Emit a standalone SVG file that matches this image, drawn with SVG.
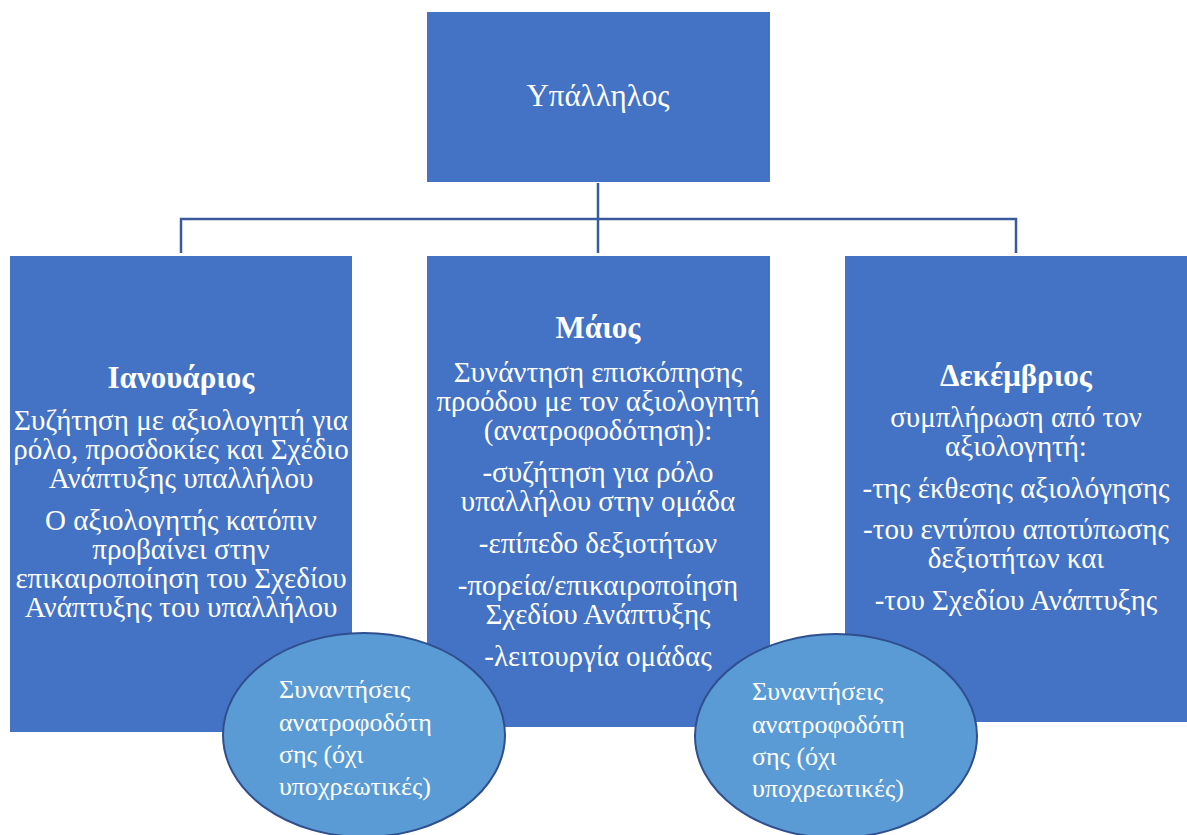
<svg xmlns="http://www.w3.org/2000/svg" width="1187" height="835" viewBox="0 0 1187 835">
<style>
.box{fill:#4472C4;}
.ell{fill:#5B9BD5;stroke:#2F4F8F;stroke-width:2;}
.t{font-family:"Liberation Serif","Times New Roman",serif;fill:#ffffff;font-size:29px;text-anchor:middle;}
.h{font-weight:bold;font-size:31px;}
.top{font-size:31px;}
.l{text-anchor:start;font-size:26px;}
.con{fill:none;stroke:#3A5A9C;stroke-width:2.5;}
</style>
<rect width="1187" height="835" fill="#ffffff"/>
<g id="connectors">
<path class="con" d="M598,183 V253 M181,253 V219 H1016 V253"/>
</g>
<g id="node-top">
<rect class="box" x="427" y="12" width="343" height="170"/>
<text class="t top" x="598" y="106">Υπάλληλος</text>
</g>
<g id="node-jan">
<rect class="box" x="10" y="256" width="342" height="476"/>
<text class="t h" x="181" y="388">Ιανουάριος</text>
<text class="t" x="181" y="430">Συζήτηση με αξιολογητή για</text>
<text class="t" x="181" y="459">ρόλο, προσδοκίες και Σχέδιο</text>
<text class="t" x="181" y="488">Ανάπτυξης υπαλλήλου</text>
<text class="t" x="181" y="530">Ο αξιολογητής κατόπιν</text>
<text class="t" x="181" y="559">προβαίνει στην</text>
<text class="t" x="181" y="588">επικαιροποίηση του Σχεδίου</text>
<text class="t" x="181" y="617">Ανάπτυξης του υπαλλήλου</text>
</g>
<g id="node-may">
<rect class="box" x="427" y="256" width="343" height="471"/>
<text class="t h" x="598" y="338">Μάιος</text>
<text class="t" x="598" y="382">Συνάντηση επισκόπησης</text>
<text class="t" x="598" y="411">προόδου με τον αξιολογητή</text>
<text class="t" x="598" y="440">(ανατροφοδότηση):</text>
<text class="t" x="598" y="482">-συζήτηση για ρόλο</text>
<text class="t" x="598" y="511">υπαλλήλου στην ομάδα</text>
<text class="t" x="598" y="553">-επίπεδο δεξιοτήτων</text>
<text class="t" x="598" y="595">-πορεία/επικαιροποίηση</text>
<text class="t" x="598" y="624">Σχεδίου Ανάπτυξης</text>
<text class="t" x="598" y="666">-λειτουργία ομάδας</text>
</g>
<g id="node-dec">
<rect class="box" x="845" y="256" width="342" height="466"/>
<text class="t h" x="1016" y="386">Δεκέμβριος</text>
<text class="t" x="1016" y="427">συμπλήρωση από τον</text>
<text class="t" x="1016" y="456">αξιολογητή:</text>
<text class="t" x="1016" y="498">-της έκθεσης αξιολόγησης</text>
<text class="t" x="1016" y="539">-του εντύπου αποτύπωσης</text>
<text class="t" x="1016" y="568">δεξιοτήτων και</text>
<text class="t" x="1016" y="610">-του Σχεδίου Ανάπτυξης</text>
</g>
<g id="node-feedback1">
<ellipse class="ell" cx="364" cy="735" rx="141" ry="102"/>
<text class="t l" x="279" y="698">Συναντήσεις</text>
<text class="t l" x="279" y="731">ανατροφοδότη</text>
<text class="t l" x="279" y="763">σης (όχι</text>
<text class="t l" x="279" y="795">υποχρεωτικές)</text>
</g>
<g id="node-feedback2">
<ellipse class="ell" cx="836" cy="736" rx="141" ry="102"/>
<text class="t l" x="752" y="700">Συναντήσεις</text>
<text class="t l" x="752" y="733">ανατροφοδότη</text>
<text class="t l" x="752" y="765">σης (όχι</text>
<text class="t l" x="752" y="797">υποχρεωτικές)</text>
</g>
</svg>
